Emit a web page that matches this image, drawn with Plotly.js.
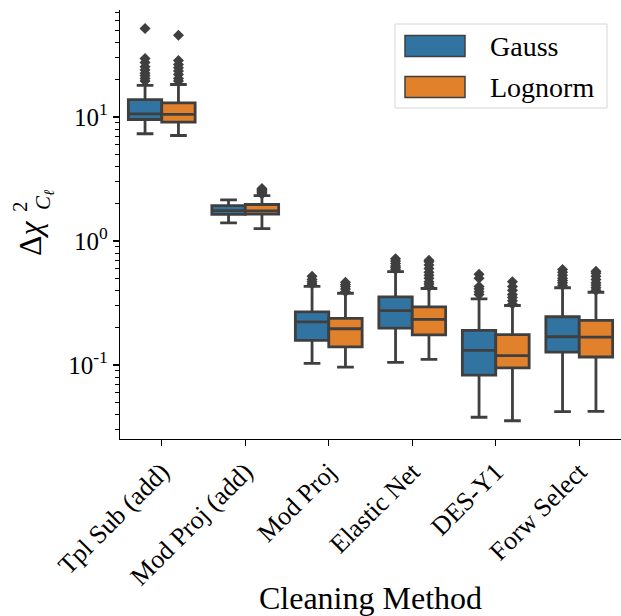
<!DOCTYPE html>
<html>
<head>
<meta charset="utf-8">
<script src="https://cdn.plot.ly/plotly-3.0.1.min.js"></script>
<style>html,body{margin:0;padding:0;background:#fff;}</style>
</head>
<body>
<div id="chart" style="width:621px;height:616px;"></div>
<script>
const categories = ['Tpl Sub (add)', 'Mod Proj (add)', 'Mod Proj', 'Elastic Net', 'DES-Y1', 'Forw Select'];
const seriesNames = ['Gauss', 'Lognorm'];

const gaussQ1     = [9.55, 1.64, 0.158, 0.198, 0.0828, 0.127];
const gaussMedian = [10.6, 1.76, 0.223, 0.275, 0.131, 0.169];
const gaussQ3     = [13.8, 1.93, 0.268, 0.355, 0.190, 0.245];
const gaussLower  = [7.33, 1.40, 0.103, 0.105, 0.0379, 0.0420];
const gaussUpper  = [18.0, 2.15, 0.431, 0.567, 0.342, 0.420];
const gaussOutliers = [
  [19.5, 20.5, 21.5, 22.5, 24, 25.5, 27.5, 29.6, 51.8],
  [],
  [0.45, 0.47, 0.49, 0.52],
  [0.59, 0.61, 0.63, 0.66, 0.69, 0.72],
  [0.37, 0.39, 0.41, 0.43, 0.50, 0.54],
  [0.44, 0.46, 0.48, 0.50, 0.53, 0.56, 0.59]
];

const lognormQ1     = [9.11, 1.65, 0.140, 0.175, 0.0948, 0.116];
const lognormMedian = [10.5, 1.75, 0.196, 0.233, 0.119, 0.168];
const lognormQ3     = [13.0, 1.97, 0.238, 0.294, 0.176, 0.229];
const lognormLower  = [7.1, 1.26, 0.096, 0.111, 0.0355, 0.0422];
const lognormUpper  = [18.3, 2.32, 0.379, 0.414, 0.302, 0.386];
const lognormOutliers = [
  [19.5, 20.5, 22, 23.5, 25, 26.5, 28.6, 45.7],
  [2.40, 2.45, 2.50, 2.55, 2.60, 2.65],
  [0.39, 0.41, 0.43, 0.445, 0.465],
  [0.43, 0.45, 0.47, 0.50, 0.53, 0.56, 0.60, 0.64, 0.68, 0.70],
  [0.31, 0.33, 0.35, 0.37, 0.40, 0.43, 0.47],
  [0.40, 0.42, 0.44, 0.46, 0.49, 0.52, 0.55, 0.57]
];

const yTickVals = [0.1, 1, 10];
const yTickText = ['10<sup>-1</sup>', '10<sup>0</sup>', '10<sup>1</sup>'];

const colors = ['#3274a1', '#e1812c'];
const lineColor = '#3f3f3f';
const font = 'Liberation Serif, Times New Roman, serif';
const boxW = 0.4;

const series = [
  {q1: gaussQ1, med: gaussMedian, q3: gaussQ3, lo: gaussLower, hi: gaussUpper, out: gaussOutliers, off: -boxW/2},
  {q1: lognormQ1, med: lognormMedian, q3: lognormQ3, lo: lognormLower, hi: lognormUpper, out: lognormOutliers, off: boxW/2}
];

const pos = categories.map((c, i) => i);
const traces = [];
series.forEach((s, k) => {
  traces.push({
    type: 'box',
    name: seriesNames[k],
    x: pos.map(p => p + s.off),
    q1: s.q1, median: s.med, q3: s.q3,
    lowerfence: s.lo, upperfence: s.hi,
    width: boxW,
    whiskerwidth: 0.5,
    boxpoints: false,
    fillcolor: colors[k],
    line: {color: lineColor, width: 2.8},
    hoverinfo: 'skip',
    showlegend: false
  });
});
series.forEach((s, k) => {
  const xs = [], ys = [];
  s.out.forEach((arr, i) => arr.forEach(v => { xs.push(pos[i] + s.off); ys.push(v); }));
  traces.push({
    type: 'scatter', mode: 'markers', x: xs, y: ys,
    marker: {symbol: 'diamond', size: 8.5, color: lineColor},
    showlegend: false, hoverinfo: 'skip'
  });
});

const minorVals = [];
[0.01, 0.1, 1, 10].forEach(d => { for (let m = 2; m <= 9; m++) minorVals.push(m * d); });

// plot area in pixels: left 120, right 621, top 10, bottom 439
const PL = 120, PW = 501, PT = 10, PH = 429;
const px = x => (x - PL) / PW;
const py = y => (PT + PH - y) / PH;

// custom legend (box, swatches, labels)
const shapes = [
  {type: 'rect', xref: 'paper', yref: 'paper', x0: px(395), x1: px(607), y0: py(108), y1: py(24),
   line: {color: '#d6d6d6', width: 1}, fillcolor: 'rgba(255,255,255,0.8)', layer: 'above'}
];
const annotations = [];
seriesNames.forEach((n, k) => {
  const yc = 46 + k * 41;
  shapes.push({type: 'rect', xref: 'paper', yref: 'paper', x0: px(405), x1: px(465), y0: py(yc + 10.5), y1: py(yc - 10.5),
    line: {color: lineColor, width: 1.5}, fillcolor: colors[k], layer: 'above'});
  annotations.push({xref: 'paper', yref: 'paper', x: px(488), y: py(yc), xanchor: 'left', yanchor: 'middle',
    text: n, showarrow: false, font: {family: font, size: 28, color: '#000'}});
});
// y-axis title pieces: Δχ with stacked 2 over C_ℓ
annotations.push({xref: 'paper', yref: 'paper', x: px(30), y: py(238), xanchor: 'center', yanchor: 'middle',
  text: 'Δ<i>χ</i>', textangle: -90, showarrow: false, font: {family: font, size: 32, color: '#000'}});
annotations.push({xref: 'paper', yref: 'paper', x: px(20), y: py(207), xanchor: 'center', yanchor: 'middle',
  text: '2', textangle: -90, showarrow: false, font: {family: font, size: 21, color: '#000'}});
annotations.push({xref: 'paper', yref: 'paper', x: px(44), y: py(200), xanchor: 'center', yanchor: 'middle',
  text: '<i>C</i><sub><i>ℓ</i></sub>', textangle: -90, showarrow: false, font: {family: font, size: 21, color: '#000'}});

const layout = {
  width: 621, height: 616,
  margin: {l: 120, r: 0, t: 10, b: 177},
  paper_bgcolor: '#fff', plot_bgcolor: '#fff',
  showlegend: false,
  font: {family: font, color: '#000', size: 20},
  xaxis: {
    range: [-0.5, 5.5],
    tickvals: pos, ticktext: categories,
    tickangle: -45,
    ticks: 'outside', ticklen: 6, tickwidth: 1.2, tickcolor: '#000',
    showline: true, linecolor: '#000', linewidth: 1.2,
    showgrid: false, zeroline: false,
    tickfont: {family: font, size: 26, color: '#000'},
    title: {text: 'Cleaning Method', font: {family: font, size: 32, color: '#000'}, standoff: 4}
  },
  yaxis: {
    type: 'log',
    range: [Math.log10(0.0253), Math.log10(73)],
    tickvals: yTickVals, ticktext: yTickText,
    ticks: 'outside', ticklen: 6, tickwidth: 1.2, tickcolor: '#000',
    minor: {tickmode: 'array', tickvals: minorVals, ticks: 'outside', ticklen: 3.5, tickwidth: 1, tickcolor: '#000', showgrid: false},
    showline: true, linecolor: '#000', linewidth: 1.2,
    showgrid: false, zeroline: false,
    tickfont: {family: font, size: 25, color: '#000'}
  },
  shapes: shapes,
  annotations: annotations
};

Plotly.newPlot('chart', traces, layout, {displayModeBar: false, staticPlot: true});
</script>
</body>
</html>
